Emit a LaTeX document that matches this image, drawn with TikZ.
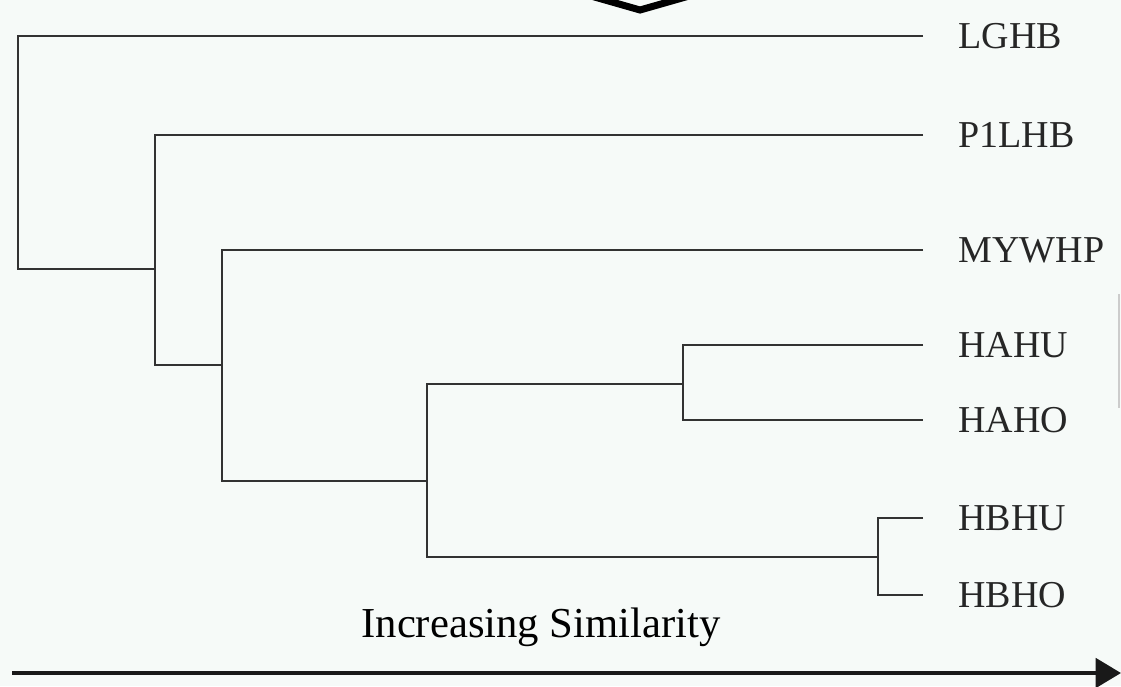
\documentclass[tikz,border=0pt]{standalone}
\usepackage{fontspec}
\setmainfont{Liberation Serif}
\usetikzlibrary{arrows.meta}

\definecolor{paper}{RGB}{246,250,248}
\definecolor{branch}{RGB}{50,50,50}
\tikzset{every picture/.style={line width=0.75pt}}
\tikzset{
  branchline/.style={draw=branch, line width=1.5pt, line join=miter},
  leaf/.style={anchor=west, inner sep=0pt, text=black!85, font=\fontsize{28.5}{30}\selectfont},
  caption/.style={anchor=base, inner sep=0pt, font=\fontsize{32}{34}\selectfont},
}

\begin{document}
\begin{tikzpicture}[x=0.75pt,y=0.75pt,yscale=-1,xscale=1]
\useasboundingbox (0,0) rectangle (1121,686);
\fill [paper] (0,0) rectangle (1121,686);

% Leaf labels
\node [leaf] (lghb)  at (958,36)  {LGHB};
\node [leaf] (p1lhb) at (958,135) {P1LHB};
\node [leaf] (mywhp) at (958,250) {MYWHP};
\node [leaf] (hahu)  at (958,345) {HAHU};
\node [leaf] (haho)  at (958,420) {HAHO};
\node [leaf] (hbhu)  at (958,518) {HBHU};
\node [leaf] (hbho)  at (958,595) {HBHO};

% Branch tips
\coordinate (lghb-end)  at (923,36);
\coordinate (p1lhb-end) at (923,135);
\coordinate (mywhp-end) at (923,250);
\coordinate (hahu-end)  at (923,345);
\coordinate (haho-end)  at (923,420);
\coordinate (hbhu-end)  at (923,518);
\coordinate (hbho-end)  at (923,595);

% Joins
\coordinate (n1) at (18,269);
\coordinate (n2) at (155,269);
\coordinate (n3) at (222,365);
\coordinate (n4) at (427,481);
\coordinate (n5) at (683,384);
\coordinate (n6) at (878,557);

%Tree
\draw [branchline] (lghb-end) -| (n1) -- (n2);
\draw [branchline] (p1lhb-end) -| (n2) |- (n3);
\draw [branchline] (mywhp-end) -| (n3) |- (n4);
\draw [branchline] (n5) -| (n4) |- (n6);
\draw [branchline] (hahu-end) -| (n5) |- (haho-end);
\draw [branchline] (hbhu-end) -| (n6) |- (hbho-end);

% Text Node
\node [caption] (similarity) at (541,637) {Increasing Similarity};

%Axis arrow
\coordinate (axis-start) at (12,673);
\coordinate (axis-end) at (1121,673);
\draw [line width=3pt, draw=black!90, -{Triangle[length=19pt, width=22pt]}] (axis-start) -- (axis-end);

%Chevron cut off at the top
\draw [line width=5.25pt, line join=miter] (584,-6) -- (640,10) -- (696,-6);
%Edge mark on the right
\draw [draw=black!20, line width=1.5pt] (1119,294) -- (1119,408);

\end{tikzpicture}
\end{document}
